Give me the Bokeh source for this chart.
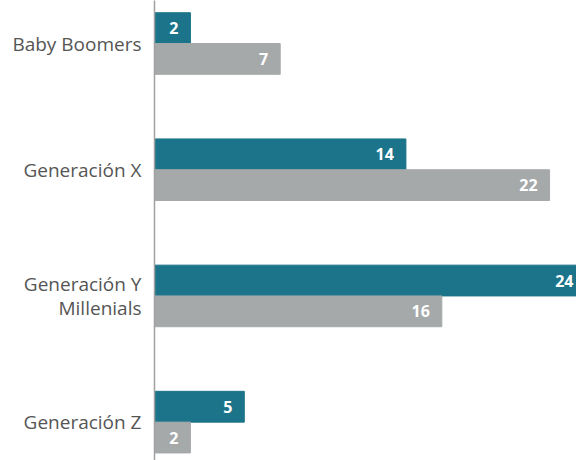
from bokeh.plotting import figure
from bokeh.models import ColumnDataSource, Range1d, FixedTicker, LinearAxis
from bokeh.core.properties import value
from bokeh.embed import file_html
from bokeh.resources import INLINE

categories = ["Baby Boomers", "Generación X", "Generación Y\nMillenials", "Generación Z"]
serie_a = [2, 14, 24, 5]
serie_b = [7, 22, 16, 2]
labels_a = ["2", "14", "24", "5"]
labels_b = ["7", "22", "16", "2"]

TEAL = "#1b7489"
GRAY = "#a6a9aa"

pos = list(range(len(categories)))
bh = 0.244

src_a = ColumnDataSource(dict(y=[k - bh / 2 for k in pos], v=serie_a, t=labels_a))
src_b = ColumnDataSource(dict(y=[k + bh / 2 for k in pos], v=serie_b, t=labels_b))

p = figure(width=576, height=460, output_backend="svg", toolbar_location=None,
           x_range=Range1d(0, 23.5), y_range=Range1d(3.304, -0.341),
           min_border_left=154, min_border_right=0, min_border_top=0, min_border_bottom=0,
           x_axis_location=None, y_axis_location=None)
p.outline_line_color = None
p.xgrid.visible = False
p.ygrid.visible = False

p.hbar(y="y", right="v", left=0, height=bh, source=src_a, color=TEAL)
p.hbar(y="y", right="v", left=0, height=bh, source=src_b, color=GRAY)

for s in (src_a, src_b):
    p.text(x="v", y="y", text="t", source=s, text_align="right", text_baseline="middle",
           x_offset=-12, text_color="white", text_font=value("Open Sans"),
           text_font_style="bold", text_font_size="16px")

ax = LinearAxis(ticker=FixedTicker(ticks=pos))
ax.major_label_overrides = {k: c for k, c in zip(pos, categories)}
ax.major_tick_line_color = None
ax.minor_tick_line_color = None
ax.axis_line_color = "#a0a0a0"
ax.axis_line_width = 1.5
ax.major_label_standoff = 7
ax.major_label_text_font = "Open Sans"
ax.major_label_text_font_size = "19px"
ax.major_label_text_line_height = 0.95
ax.major_label_text_color = "#555555"
ax.major_label_text_align = "right"
p.add_layout(ax, "left")

open("out.html", "w").write(file_html(p, INLINE))
